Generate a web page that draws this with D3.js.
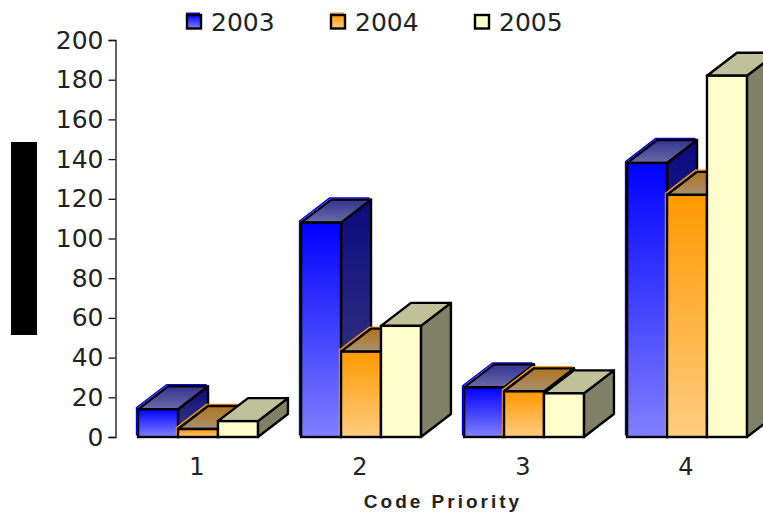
<!DOCTYPE html>
<html>
<head>
<meta charset="utf-8">
<script src="https://cdn.jsdelivr.net/npm/d3@7"></script>
<style>
  html, body { margin: 0; padding: 0; background: #fff; overflow: hidden; }
  text { font-family: "DejaVu Sans", sans-serif; fill: #222; }
</style>
</head>
<body>
<div id="chart"></div>
<script>
// Values
const categories = ['1', '2', '3', '4'];
const seriesNames = ['2003', '2004', '2005'];
const values2003 = [14, 108, 25, 138];
const values2004 = [4, 43, 23, 122];
const values2005 = [8, 56, 22, 182];
const yTicks = [0, 20, 40, 60, 80, 100, 120, 140, 160, 180, 200];
const xTitle = 'Code Priority';

const seriesValues = [values2003, values2004, values2005];

const width = 763;
const height = 512;
const depthX = 30;
const depthY = 23;

// front, top and side colours, each one top -> bottom of the bar
const palette = {
  2003: { edge: '#0000ff', front: ['#0000ff', '#8080ff'], top: ['#33338f', '#6a6aa8'], side: ['#0a0a80', '#404080'] },
  2004: { edge: '#ff9900', front: ['#ff9900', '#ffcc80'], top: ['#b0741f', '#a89070'], side: ['#99600a', '#997a4d'] },
  2005: { edge: null, front: ['#ffffcc', '#ffffcc'], top: ['#c0c09a', '#c0c09a'], side: ['#808066', '#808066'] }
};

const svg = d3.select('#chart')
  .append('svg')
  .attr('width', width)
  .attr('height', height);

const defs = svg.append('defs');
seriesNames.forEach(name => {
  ['front', 'top', 'side'].forEach(face => {
    const grad = defs.append('linearGradient')
      .attr('id', `${face}-${name}`)
      .attr('x1', 0).attr('y1', 0).attr('x2', 0).attr('y2', 1);
    grad.append('stop').attr('offset', '0%').attr('stop-color', palette[name][face][0]);
    grad.append('stop').attr('offset', '100%').attr('stop-color', palette[name][face][1]);
  });
});

// Scales
const y = d3.scaleLinear().domain([0, 200]).range([437, 40]);
const x = d3.scaleBand().domain(categories).range([116.5, 768.5]);
const inner = d3.scaleBand()
  .domain(seriesNames)
  .range([0, x.bandwidth()])
  .paddingOuter(0.54);

// Y axis
const yAxis = svg.append('g')
  .attr('transform', 'translate(115.5,0)')
  .call(d3.axisLeft(y).tickValues(yTicks).tickSize(7).tickSizeOuter(7).tickPadding(5));
yAxis.selectAll('path, line').attr('stroke', '#111').attr('stroke-width', 1.3);
yAxis.selectAll('text').attr('font-size', 25).style('font-family', '"DejaVu Sans", sans-serif');

// X axis, labels only
const xAxis = svg.append('g')
  .attr('transform', 'translate(-1,458)')
  .call(d3.axisBottom(x).tickSize(0).tickPadding(0));
xAxis.select('.domain').remove();
xAxis.selectAll('text').attr('font-size', 24).style('font-family', '"DejaVu Sans", sans-serif');

svg.append('text')
  .attr('x', 443)
  .attr('y', 507.5)
  .attr('text-anchor', 'middle')
  .attr('font-size', 19)
  .attr('font-weight', 'bold')
  .attr('letter-spacing', 3)
  .style('font-family', '"Liberation Sans", sans-serif')
  .text(xTitle);

// Covered axis title
svg.append('rect')
  .attr('x', 11).attr('y', 142)
  .attr('width', 26).attr('height', 193)
  .attr('fill', '#000');

// Bars, left to right so that each one sits over its left neighbour
const bw = inner.bandwidth();
categories.forEach((cat, i) => {
  seriesNames.forEach((name, s) => {
    const x0 = x(cat) + inner(name);
    const x1 = x0 + bw;
    const yTop = y(seriesValues[s][i]);
    const yBase = y(0);
    const topFace = [[x0, yTop], [x0 + depthX, yTop - depthY], [x1 + depthX, yTop - depthY], [x1, yTop]];
    const sideFace = [[x1, yTop], [x1 + depthX, yTop - depthY], [x1 + depthX, yBase - depthY], [x1, yBase]];
    const g = svg.append('g');

    if (palette[name].edge) {
      // the coloured line shows just outside the black one
      g.append('path')
        .attr('d', d3.line()([[x0, yBase], ...topFace.slice(0, 3)]))
        .attr('transform', 'translate(-1.5,-1.5)')
        .attr('fill', 'none')
        .attr('stroke', palette[name].edge)
        .attr('stroke-width', 1.5);
    }
    [['side', sideFace], ['top', topFace]].forEach(([face, pts]) => {
      g.append('path')
        .attr('d', d3.line()(pts) + 'Z')
        .attr('fill', `url(#${face}-${name})`)
        .attr('stroke', '#000')
        .attr('stroke-width', 2.4)
        .attr('stroke-linejoin', 'round');
    });
    g.append('rect')
      .attr('x', x0)
      .attr('y', yTop)
      .attr('width', bw)
      .attr('height', yBase - yTop)
      .attr('fill', `url(#front-${name})`)
      .attr('stroke', '#000')
      .attr('stroke-width', 2.4);
  });
});

// Legend
const legendX = d3.scalePoint().domain(seriesNames).range([187, 475]);
seriesNames.forEach(name => {
  const lx = legendX(name);
  if (palette[name].edge) {
    svg.append('rect')
      .attr('x', lx - 1).attr('y', 12.5)
      .attr('width', 14).attr('height', 8)
      .attr('fill', palette[name].edge);
  }
  svg.append('rect')
    .attr('x', lx).attr('y', 15)
    .attr('width', 14).attr('height', 13.5)
    .attr('fill', `url(#front-${name})`)
    .attr('stroke', '#000')
    .attr('stroke-width', 2.4);
  svg.append('text')
    .attr('x', lx + 24)
    .attr('y', 31)
    .attr('font-size', 25)
    .text(name);
});
</script>
</body>
</html>
